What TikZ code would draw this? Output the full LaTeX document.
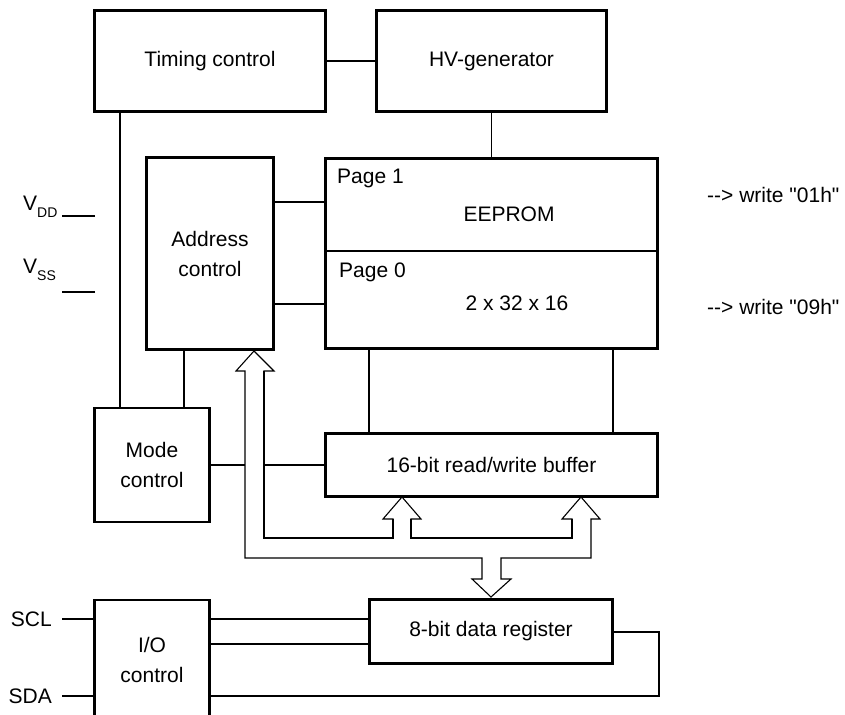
\documentclass[tikz,border=0pt]{standalone}
\usepackage{fontspec}
\setmainfont{Liberation Sans}[Ligatures=TeXOff]
\usetikzlibrary{calc}

\begin{document}
\begin{tikzpicture}[x=1pt, y=-1pt,
  font=\fontsize{21}{30}\selectfont,
  box/.style={draw, line width=2.3pt, align=center, inner sep=0pt},
  wire/.style={line width=1.2pt},
  hwire/.style={line width=2pt},
  bus/.style={line width=1.1pt, line join=miter},
  busin/.style={line width=1.9pt},
  lab/.style={inner sep=0pt},
  sig/.style={inner ysep=0pt, inner xsep=10pt, anchor=east}
]
  \path[clip] (0,0) rectangle (845,714);

  % blocks
  \node[box, minimum width=231pt, minimum height=101pt] (timing) at (210,61) {Timing control};
  \node[box, minimum width=230pt, minimum height=101pt] (hv) at (491.5,61) {HV-generator};
  \node[box, minimum width=127pt, minimum height=192pt] (addr) at (210,253.5) {Address\\ control};
  \node[box, minimum width=332pt, minimum height=190pt] (eeprom) at (491.5,253.5) {};
  \node[box, minimum width=115pt, minimum height=114pt] (mode) at (152,465) {Mode\\ control};
  \node[box, minimum width=332pt, minimum height=63pt] (buffer) at (491.5,465) {16-bit read/write buffer};
  \node[box, minimum width=243pt, minimum height=64pt] (dreg) at (491,631.5) {8-bit data register};
  \node[box, minimum width=115pt, minimum height=120pt] (io) at (152,660) {I/O\\ control};

  % EEPROM pages
  \draw[wire] (eeprom.west |- 0,251) -- (eeprom.east |- 0,251);
  \node[lab, anchor=base west] (p1) at (337,183) {Page 1};
  \node[lab, anchor=base] (mem) at (509,221) {EEPROM};
  \node[lab, anchor=base west] (p0) at (339,277) {Page 0};
  \node[lab, anchor=base] (org) at (517,310) {2 x 32 x 16};
  \node[lab, anchor=base west] (w1) at (707,202) {--> write "01h"};
  \node[lab, anchor=base west] (w9) at (707,314) {--> write "09h"};

  % supply pins
  \node[lab, anchor=base west] (vdd) at (23,210) {V\raisebox{-7pt}{\fontsize{14}{14}\selectfont DD}};
  \node[lab, anchor=base west] (vss) at (23,273) {V\raisebox{-7pt}{\fontsize{14}{14}\selectfont SS}};
  \coordinate (vddpin) at (95,216);
  \coordinate (vsspin) at (95,292);
  \draw[wire] (vddpin) -- ++(-33,0);
  \draw[wire] (vsspin) -- ++(-33,0);

  % control wires
  \draw[wire] (timing) -- (hv);
  \draw[wire] (hv) -- (eeprom);
  \draw[wire] ([xshift=-90pt]timing.south) -- ([xshift=-90pt]timing.south |- mode.north);
  \draw[wire] ([xshift=-26pt]addr.south) -- ([xshift=-26pt]addr.south |- mode.north);
  \draw[wire] ([yshift=51.5pt]addr.east) -- ([yshift=51.5pt]addr.east -| eeprom.west);
  \draw[wire] ([yshift=-50.5pt]addr.east) -- ([yshift=-50.5pt]addr.east -| eeprom.west);
  \draw[wire] ([xshift=-122.5pt]eeprom.south) -- ([xshift=-122.5pt]eeprom.south |- buffer.north);
  \draw[wire] ([xshift=121.5pt]eeprom.south) -- ([xshift=121.5pt]eeprom.south |- buffer.north);
  \draw[wire] (mode.east) -- (245,465);
  \draw[wire] (264,465) -- (buffer.west);

  % data bus
  \draw[bus] (245,371) -- (245,558) -- (482,558) -- (482,579) -- (472,579) -- (491,597)
    -- (511,579) -- (501,579) -- (501,558) -- (591,558) -- (591,519) -- (600,519)
    -- (581,497) -- (562,519) -- (572,519) -- (572,538) -- (411,538) -- (411,519)
    -- (421,519) -- (402,497) -- (383,519) -- (393,519) -- (393,538) -- (264,538)
    -- (264,371) -- (274,371) -- (254,351) -- (236,371) -- cycle;
  \draw[busin] (393,519) -- (393,538) -- (264,538) -- (264,371);
  \draw[busin] (411,519) -- (411,538) -- (572,538) -- (572,519);

  % serial interface
  \node[sig] (scl) at (62,619) {SCL};
  \node[sig] (sda) at (62,696) {SDA};
  \draw[wire] ([yshift=41pt]io.west) -- (scl);
  \draw[hwire] ([yshift=-36pt]io.west) -- (sda);
  \draw[wire] ([yshift=41pt]io.east) -- ([yshift=41pt]io.east -| dreg.west);
  \draw[wire] ([yshift=16pt]io.east) -- ([yshift=16pt]io.east -| dreg.west);
  \draw[hwire] (dreg.east) -- ++(45,0) |- ([yshift=-36pt]io.east);
\end{tikzpicture}
\end{document}
